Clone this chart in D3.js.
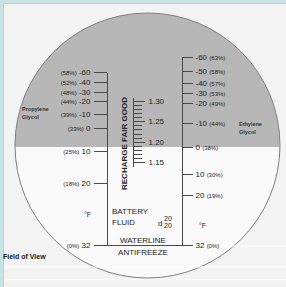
<!DOCTYPE html>
<html>
<head>
<meta charset="utf-8">
<script src="https://cdn.jsdelivr.net/npm/d3@7"></script>
<style>
  html, body { margin: 0; padding: 0; background: #f3f3f3; }
  svg { display: block; font-family: "Liberation Sans", Arial, sans-serif; }
  .axis path, .axis line { stroke: #4a4a4a; stroke-width: 1; shape-rendering: crispEdges; }
  .axis text { fill: #222; font-size: 8px; }
</style>
</head>
<body>
<div id="chart"></div>
<script>
// propylene glycol scale (left), deg F and concentration
var propF = [-60, -40, -30, -20, -10, 0, 10, 20, 32];
var propPct = ['58%', '52%', '48%', '44%', '39%', '33%', '25%', '18%', '0%'];
// ethylene glycol scale (right)
var ethF = [-60, -50, -40, -30, -20, -10, 0, 10, 20, 32];
var ethPct = ['63%', '58%', '57%', '53%', '49%', '44%', '38%', '30%', '19%', '0%'];
// battery fluid specific gravity (middle)
var sgMajor = [1.15, 1.20, 1.25, 1.30];
var sgMinor = [1.15, 1.16, 1.17, 1.18, 1.19, 1.20, 1.21, 1.22, 1.23, 1.24, 1.25, 1.26, 1.27, 1.28, 1.29, 1.30];

var width = 286, height = 287;
var cx = 147.5, cy = 145.5, r = 132.5;

var svg = d3.select('#chart').append('svg')
  .attr('width', width)
  .attr('height', height);

// background + frame
svg.append('rect').attr('width', width).attr('height', height).attr('fill', '#f3f3f3');
svg.append('path')
  .attr('d', 'M1.5,' + height + 'V1.5H' + width)
  .attr('fill', 'none').attr('stroke', '#c4e5e1').attr('stroke-width', 3);
svg.append('path')
  .attr('d', 'M3.5,' + height + 'V3.5H' + width)
  .attr('fill', 'none').attr('stroke', '#b0d9d4').attr('stroke-width', 1);

// calibrated scales (non linear, read off the reticle)
var yProp = d3.scaleLinear().domain(propF).range([72, 82, 92, 101, 114, 128, 151, 183, 245]);
var yEth = d3.scaleLinear().domain(ethF).range([57, 71, 83, 93, 103, 123, 147, 174, 195, 245]);
var ySG = d3.scaleLinear().domain([1.14, 1.31]).range([166, 97]);

// field of view circle, grey above the shadow line
svg.append('clipPath').attr('id', 'fov')
  .append('circle').attr('cx', cx).attr('cy', cy).attr('r', r);
var shade = yEth(0);
var fov = svg.append('g').attr('clip-path', 'url(#fov)');
fov.append('rect').attr('x', 0).attr('y', 0).attr('width', width).attr('height', shade).attr('fill', '#b7b7b7');
fov.append('rect').attr('x', 0).attr('y', shade).attr('width', width).attr('height', height - shade).attr('fill', '#fafafa');
svg.append('circle').attr('cx', cx).attr('cy', cy).attr('r', r)
  .attr('fill', 'none').attr('stroke', '#808080').attr('stroke-width', 1);

// faint white streaks outside
[yEth(32) + 1, 267, 280].forEach(function(y, i) {
  svg.append('line').attr('x1', i == 0 ? 192 : 5).attr('x2', width).attr('y1', y).attr('y2', y)
    .attr('stroke', '#ffffff').attr('stroke-width', 1.2);
});

// left axis - propylene glycol
var leftAxis = d3.axisLeft(yProp).tickValues(propF).tickSize(13).tickSizeOuter(0).tickPadding(3)
  .tickFormat(function(d) { return d; });
var gl = svg.append('g').attr('class', 'axis').attr('transform', 'translate(106.5,0)').call(leftAxis);
gl.selectAll('.tick text').each(function(d, i) {
  var t = d3.select(this).text('');
  t.append('tspan').style('font-size', '6px').text('(' + propPct[i] + ')');
  t.append('tspan').text(' ' + d);
});

// right axis - ethylene glycol
var rightAxis = d3.axisRight(yEth).tickValues(ethF).tickSize(11).tickSizeOuter(0).tickPadding(3)
  .tickFormat(function(d) { return d; });
var gr = svg.append('g').attr('class', 'axis').attr('transform', 'translate(181.5,0)').call(rightAxis);
gr.selectAll('.tick text').each(function(d, i) {
  var t = d3.select(this).text('');
  t.append('tspan').text(d + ' ');
  t.append('tspan').style('font-size', '6px').text('(' + ethPct[i] + ')');
});

// battery axis
var gm = svg.append('g').attr('class', 'axis').attr('transform', 'translate(132.5,0)');
gm.call(d3.axisRight(ySG).tickValues(sgMinor).tickSize(9).tickSizeOuter(0).tickFormat(''));
gm.append('g').call(d3.axisRight(ySG).tickValues(sgMajor).tickSize(12).tickSizeOuter(0).tickPadding(4)
  .tickFormat(d3.format('.2f')))
  .select('.domain').remove();

// waterline
svg.append('line')
  .attr('x1', 95).attr('x2', 192).attr('y1', yProp(32) + 0.5).attr('y2', yProp(32) + 0.5)
  .attr('stroke', '#4a4a4a').attr('stroke-width', 1);

// texts
function txt(x, y, s, size, opts) {
  opts = opts || {};
  return svg.append('text').attr('x', x).attr('y', y).text(s)
    .attr('font-size', size + 'px')
    .attr('font-weight', opts.bold ? 'bold' : 'normal')
    .attr('text-anchor', opts.anchor || 'start')
    .attr('fill', opts.fill || '#222');
}
txt(0, 0, 'RECHARGE FAIR GOOD', 8, {bold: true})
  .attr('transform', 'translate(127,190) rotate(-90)')
  .attr('textLength', 93).attr('lengthAdjust', 'spacingAndGlyphs');

txt(22, 111, 'Propylene', 5.5, {bold: true, fill: '#333'});
txt(22, 119, 'Glycol', 5.5, {bold: true, fill: '#333'});
txt(239, 126, 'Ethylene', 5.5, {bold: true, fill: '#333'});
txt(239, 134, 'Glycol', 5.5, {bold: true, fill: '#333'});

txt(112, 214, 'BATTERY', 8);
txt(112, 225, 'FLUID', 8);
txt(158, 226, 'd', 8);
txt(164, 221, '20', 7);
txt(164, 228, '20', 7);

txt(84, 217, '°F', 7);
txt(199, 228, '°F', 7);

txt(143, 243, 'WATERLINE', 8, {anchor: 'middle'});
txt(143, 255, 'ANTIFREEZE', 8, {anchor: 'middle'});

txt(3, 259, 'Field of View', 7, {bold: true});
</script>
</body>
</html>
